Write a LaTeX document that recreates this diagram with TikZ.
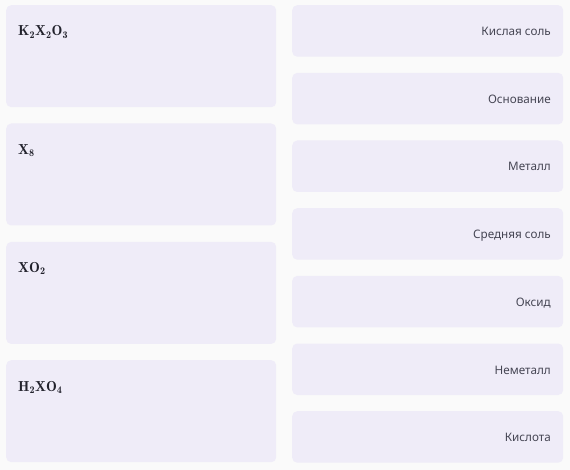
\documentclass[tikz,border=0pt]{standalone}
\usepackage{fontspec}
\setsansfont{Noto Sans}
\definecolor{bg}{RGB}{250,250,250}
\definecolor{boxfill}{RGB}{239,236,248}
\definecolor{lbl}{RGB}{70,70,84}
\definecolor{frm}{RGB}{34,34,44}
\begin{document}
\begin{tikzpicture}[x=1pt,y=-1pt,
  card/.style={fill=boxfill, draw=none, rounded corners=5pt, inner sep=0pt, anchor=north west},
  leftcard/.style={card, minimum width=270pt, minimum height=102pt},
  rightcard/.style={card, minimum width=271pt, minimum height=51.5pt},
  formula/.style={anchor=base west, inner sep=0pt, text=frm, font=\fontsize{14.5}{17}\selectfont},
  answer/.style={anchor=base east, inner sep=0pt, text=lbl, font=\sffamily\fontsize{11.7}{14}\selectfont}]
\fill[bg] (0,0) rectangle (570,470);
\useasboundingbox (0,0) rectangle (570,470);
% left column
\node[leftcard] (L1) at (6,5) {};
\node[leftcard] (L2) at (6,123.3) {};
\node[leftcard] (L3) at (6,241.7) {};
\node[leftcard] (L4) at (6,360) {};
\node[formula] (f1) at (18,36) {$\mathbf{K_2X_2O_3}$};
\node[formula] (f2) at (18,154.3) {$\mathbf{X_8}$};
\node[formula] (f3) at (18,272.7) {$\mathbf{XO_2}$};
\node[formula] (f4) at (18,391) {$\mathbf{H_2XO_4}$};
% right column
\node[rightcard] (R1) at (292,5) {};
\node[rightcard] (R2) at (292,72.7) {};
\node[rightcard] (R3) at (292,140.3) {};
\node[rightcard] (R4) at (292,208) {};
\node[rightcard] (R5) at (292,275.7) {};
\node[rightcard] (R6) at (292,343.3) {};
\node[rightcard] (R7) at (292,411) {};
\node[answer] (a1) at (551,35.5) {Кислая соль};
\node[answer] (a2) at (551,104) {Основание};
\node[answer] (a3) at (551,171) {Металл};
\node[answer] (a4) at (551,239) {Средняя соль};
\node[answer] (a5) at (551,306.5) {Оксид};
\node[answer] (a6) at (551,374) {Неметалл};
\node[answer] (a7) at (551,441.5) {Кислота};
\end{tikzpicture}
\end{document}
